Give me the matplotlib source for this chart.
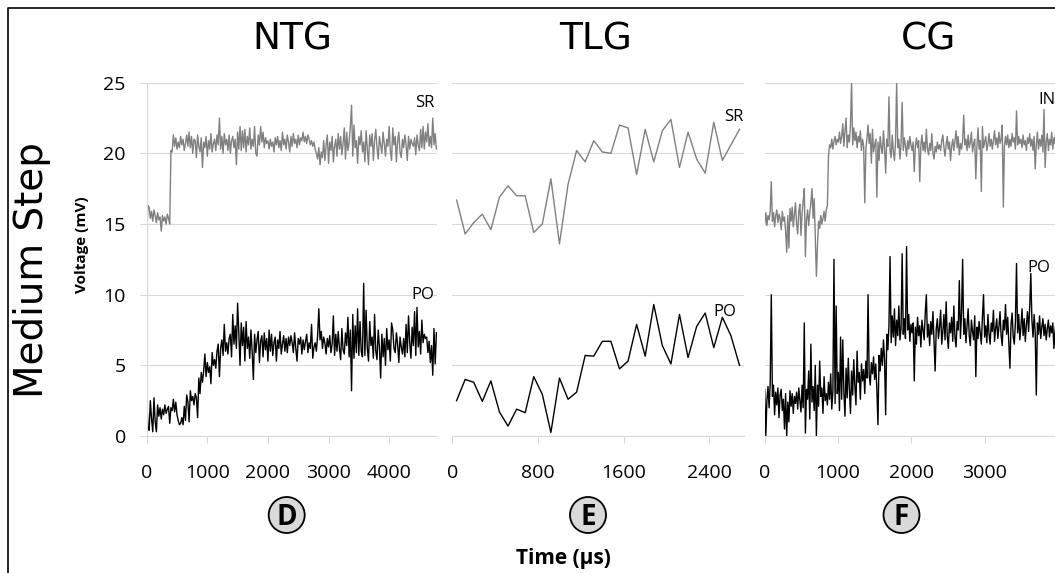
import numpy as np
import matplotlib
matplotlib.use("Agg")
import matplotlib.pyplot as plt
from matplotlib.patches import Ellipse
from matplotlib.lines import Line2D

plt.rcParams['font.family'] = ['Open Sans', 'DejaVu Sans']

# ---- data (mV) ----
# NTG, sampled every 20 us
ntg_step = 20
ntg_sr = [14.2, 16.3, 16.2, 15.4, 15.9, 15.2, 16.0, 15.6, 15.1, 15.8, 15.3, 15.5, 14.5, 15.6, 15.2, 15.5, 15.0, 15.7, 15.4, 15.0,
          20.2, 20.1, 21.3, 20.5, 21.1, 20.3, 20.8, 20.4, 21.2, 20.6, 21.0, 20.2, 20.7, 21.3, 20.5, 21.5, 20.4, 21.2, 20.0, 21.0,
          20.9, 19.7, 21.3, 20.5, 20.1, 21.1, 19.0, 20.8, 20.4, 21.2, 19.8, 20.9, 20.3, 21.4, 20.1, 20.7, 21.0, 20.2, 21.3, 20.6,
          22.5, 20.3, 21.2, 20.0, 21.4, 20.6, 21.0, 20.2, 21.3, 20.0, 20.9, 21.2, 20.4, 21.0, 19.2, 21.5, 20.3, 21.9, 20.2, 21.6,
          20.4, 21.7, 20.1, 21.2, 20.6, 21.8, 20.3, 21.0, 20.5, 21.9, 20.0, 19.8, 21.3, 20.6, 21.9, 20.8, 21.5, 20.4, 21.1, 20.7,
          20.9, 20.3, 21.0, 20.5, 20.8, 20.1, 21.1, 20.6, 21.2, 20.4, 20.9, 20.2, 21.5, 20.6, 21.0, 20.3, 21.3, 20.8, 20.1, 21.2,
          20.5, 21.4, 20.7, 21.0, 20.4, 21.3, 20.6, 21.1, 20.9, 21.5, 20.8, 21.2, 20.7, 21.3, 21.0, 20.6, 20.9, 20.5, 20.8, 20.3,
          20.0, 19.6, 20.4, 19.2, 20.1, 19.7, 20.9, 19.5, 20.6, 21.3, 19.3, 20.8, 20.2, 21.2, 19.4, 20.5, 21.0, 19.8, 21.4, 20.3,
          21.2, 19.9, 20.7, 21.8, 19.6, 21.5, 20.2, 20.8, 21.9, 23.4, 19.8, 22.0, 20.4, 20.9, 19.3, 21.2, 20.6, 21.6, 20.1, 20.8,
          19.4, 21.6, 20.3, 19.2, 21.3, 20.5, 21.4, 19.5, 20.9, 21.7, 20.4, 19.6, 21.2, 20.6, 20.0, 21.5, 20.7, 19.8, 21.0, 20.5,
          21.9, 20.2, 19.5, 21.8, 20.6, 21.2, 19.4, 20.9, 21.5, 20.1, 19.7, 21.0, 20.4, 21.3, 20.6, 19.5, 21.2, 20.3, 21.0, 20.7,
          20.5, 21.1, 19.9, 21.3, 20.6, 20.2, 21.7, 20.4, 21.9, 20.3, 21.5, 20.8, 22.1, 20.5, 21.2, 20.4, 22.5, 20.6, 21.4, 20.3]
ntg_po = [2.9, 0.6, 0.4, 2.5, 1.2, 0.3, 2.7, 1.0, 0.3, 2.2, 1.4, 2.0, 1.2, 1.9, 1.5, 2.2, 1.6, 1.9, 2.1, 0.9,
          2.0, 1.8, 2.6, 1.7, 2.4, 1.5, 1.1, 0.8, 0.9, 1.3, 0.8, 2.1, 1.1, 2.9, 2.4, 1.0, 3.2, 2.5, 2.8, 2.2,
          3.0, 2.7, 1.3, 4.1, 3.0, 4.5, 3.8, 4.6, 5.8, 4.2, 5.2, 4.5, 4.9, 3.7, 5.9, 5.0, 5.4, 4.8, 6.0, 6.5,
          4.2, 6.2, 6.8, 5.7, 7.9, 6.0, 6.6, 5.8, 6.9, 7.2, 5.6, 8.6, 6.5, 7.8, 6.2, 9.4, 7.3, 5.0, 8.0, 6.4,
          7.7, 5.3, 8.1, 6.2, 7.0, 5.5, 7.5, 6.0, 4.0, 7.2, 5.9, 6.8, 7.4, 5.2, 6.7, 7.1, 5.6, 7.3, 6.1, 6.9,
          5.3, 7.5, 6.0, 7.2, 5.7, 6.6, 7.0, 5.3, 6.8, 6.2, 7.4, 5.8, 6.5, 7.1, 6.0, 6.9, 5.9, 7.0, 6.4, 7.1,
          6.6, 5.9, 7.3, 6.2, 5.3, 6.9, 6.5, 7.0, 5.8, 6.8, 6.1, 6.7, 7.2, 5.9, 6.6, 6.2, 7.9, 5.5, 6.3, 6.6,
          6.0, 7.1, 9.0, 6.8, 7.4, 6.2, 7.0, 6.6, 5.8, 6.9, 6.3, 7.1, 5.9, 6.5, 8.5, 5.7, 7.2, 6.0, 7.4, 6.2,
          5.4, 7.6, 6.1, 5.8, 7.3, 6.4, 8.4, 5.6, 7.5, 3.2, 8.6, 5.5, 7.8, 5.9, 9.0, 5.7, 8.1, 6.0, 5.6, 10.8,
          5.7, 8.9, 6.2, 5.3, 8.1, 6.4, 7.0, 5.5, 8.6, 6.0, 5.4, 7.5, 6.3, 4.1, 7.2, 5.6, 6.9, 5.0, 7.6, 6.1,
          6.8, 5.3, 8.0, 7.5, 6.2, 5.9, 7.3, 6.5, 5.2, 7.0, 6.3, 5.8, 6.9, 5.6, 7.9, 5.9, 8.5, 6.6, 5.5, 7.7,
          6.4, 8.8, 5.7, 9.1, 6.3, 7.4, 5.8, 8.2, 6.6, 7.2, 6.9, 7.0, 5.9, 6.7, 5.2, 6.4, 4.3, 7.6, 5.1, 7.3]

# TLG, sampled every 80 us starting at 40 us
tlg_start = 40
tlg_step = 80
tlg_sr = [16.7, 14.3, 15.1, 15.7, 14.6, 16.9, 17.7, 17.0, 17.0, 14.4, 15.0, 18.2, 13.6, 17.8, 20.2, 19.4, 20.9,
          20.1, 20.0, 22.0, 21.8, 18.5, 21.7, 19.4, 21.6, 22.4, 19.0, 21.5, 19.6, 18.6, 22.2, 19.5, 20.6, 21.7]
tlg_po = [2.5, 4.0, 3.8, 2.45, 3.9, 1.7, 0.7, 1.9, 1.65, 4.2, 2.95, 0.25, 4.1, 2.6, 3.1, 5.7, 5.65,
          6.7, 6.7, 4.75, 5.3, 7.9, 5.65, 9.3, 6.4, 5.1, 8.6, 5.55, 7.75, 8.7, 6.25, 8.4, 7.1, 5.0]

# CG, sampled every 15 us
cg_step = 15
cg_in = [15.0, 15.8, 14.9, 15.6, 15.3, 15.9, 18.0, 15.2, 15.8, 14.8, 15.6, 16.0, 15.1, 15.7, 15.4, 14.6, 15.9, 15.2, 15.5, 14.5,
         13.0, 15.6, 13.3, 16.1, 15.2, 16.2, 14.8, 15.7, 16.5, 15.0, 14.3, 15.9, 16.4, 14.2, 15.8, 16.6, 17.5, 12.7, 15.3, 16.0,
         14.9, 15.8, 16.5, 17.5, 15.4, 16.8, 14.0, 11.3, 13.5, 15.2, 14.7, 15.6, 15.0, 15.4, 15.9, 15.2, 16.0, 16.3, 19.8, 20.6,
         20.4, 21.0, 20.3, 20.9, 21.2, 20.6, 21.0, 20.8, 21.5, 20.7, 21.2, 22.1, 20.5, 21.6, 22.5, 20.4, 21.3, 20.8, 22.0, 25.0,
         20.6, 21.8, 20.9, 21.5, 20.4, 21.2, 20.8, 21.6, 20.2, 21.0, 20.5, 16.5, 20.3, 21.1, 22.0, 20.7, 21.4, 19.3, 21.7, 20.1,
         20.6, 21.0, 16.9, 20.8, 19.5, 21.2, 20.4, 20.0, 21.6, 20.3, 18.6, 21.0, 20.5, 24.0, 20.2, 19.7, 21.3, 20.1, 19.5, 20.8,
         25.0, 20.4, 21.0, 19.6, 20.7, 23.6, 20.2, 21.1, 20.5, 19.8, 20.9, 20.3, 21.2, 20.6, 20.2, 20.8, 18.7, 20.5, 21.1, 20.4,
         20.9, 18.0, 20.6, 21.3, 20.2, 20.8, 20.1, 21.7, 20.3, 19.9, 20.7, 20.2, 21.4, 20.0, 19.6, 20.5, 20.1, 20.8, 20.3, 20.6,
         20.2, 20.9, 21.3, 20.4, 19.8, 20.6, 21.2, 20.3, 20.8, 19.5, 20.5, 21.0, 20.2, 20.9, 21.6, 20.4, 21.2, 19.9, 20.7, 20.3,
         20.9, 22.7, 20.6, 21.0, 20.2, 21.3, 20.4, 20.8, 21.5, 20.1, 20.7, 21.0, 18.2, 20.5, 21.8, 20.3, 20.9, 17.3, 21.9, 20.4,
         20.8, 21.2, 20.2, 20.7, 21.4, 20.5, 21.0, 20.3, 20.9, 21.6, 20.6, 21.1, 20.4, 21.5, 20.7, 21.0, 22.0, 16.2, 20.5, 21.2,
         20.6, 21.3, 20.4, 21.0, 20.5, 21.4, 20.8, 21.1, 20.3, 23.0, 20.6, 21.2, 20.7, 21.0, 20.4, 21.3, 20.6, 20.9, 20.2, 21.1,
         20.7, 21.4, 20.5, 21.0, 20.2, 21.2, 18.9, 20.6, 21.5, 20.3, 21.0, 20.5, 21.3, 20.1, 23.1, 19.0, 20.8, 21.4, 20.2, 21.0,
         20.6, 21.5, 20.3, 21.1, 20.7, 22.2, 20.4]
cg_po = [3.3, 0.0, 2.5, 3.5, 2.0, 3.7, 10.0, 2.8, 3.6, 1.5, 3.1, 2.2, 3.4, 1.3, 2.9, 3.3, 1.8, 2.6, 0.5, 3.0,
         0.0, 2.4, 1.0, 3.2, 2.1, 3.0, 1.6, 2.8, 2.3, 3.1, 1.9, 3.4, 2.5, 1.7, 3.6, 2.0, 8.0, 0.2, 3.3, 2.6,
         4.6, 1.2, 6.5, 2.4, 3.5, 1.8, 5.0, 0.0, 3.6, 2.1, 5.3, 2.8, 3.4, 1.6, 4.2, 2.5, 3.0, 2.2, 3.8, 2.6,
         4.4, 1.9, 3.2, 12.5, 2.3, 9.2, 3.0, 4.5, 1.8, 7.0, 2.6, 6.8, 3.1, 1.4, 4.8, 2.7, 5.5, 3.3, 1.6, 4.6,
         2.9, 5.4, 3.5, 2.2, 6.0, 3.8, 4.5, 2.6, 5.1, 3.9, 4.7, 3.0, 5.3, 4.1, 10.0, 4.3, 3.6, 5.2, 4.4, 5.6,
         4.0, 5.1, 3.3, 0.8, 5.7, 4.6, 6.2, 5.0, 6.8, 5.4, 1.5, 7.2, 6.1, 7.8, 12.7, 6.6, 8.5, 7.0, 9.0, 6.4,
         8.2, 7.1, 9.2, 6.8, 7.6, 12.9, 7.2, 8.3, 6.9, 13.4, 7.5, 8.6, 6.7, 7.9, 7.3, 8.0, 3.9, 7.7, 6.5, 8.4,
         7.1, 7.8, 6.3, 8.2, 7.5, 6.8, 8.7, 10.0, 7.0, 7.9, 6.4, 8.1, 7.2, 8.8, 6.6, 4.6, 7.6, 8.3, 6.9, 7.7,
         8.9, 6.5, 7.4, 8.6, 6.8, 9.5, 7.1, 6.2, 8.0, 7.3, 8.4, 6.7, 9.2, 7.0, 6.3, 8.1, 7.5, 11.0, 6.9, 8.7,
         12.5, 7.2, 8.3, 6.6, 7.8, 9.0, 7.1, 6.4, 8.2, 7.4, 6.8, 8.5, 4.2, 7.7, 6.9, 8.1, 7.3, 6.5, 8.4, 10.0,
         7.0, 7.8, 6.6, 8.6, 7.2, 6.5, 8.0, 7.4, 8.9, 6.7, 7.6, 8.3, 6.9, 7.7, 8.8, 7.1, 6.4, 8.2, 7.5, 9.3,
         7.2, 8.4, 6.6, 4.8, 7.9, 8.7, 7.0, 6.5, 8.1, 12.2, 7.3, 8.6, 6.8, 7.7, 9.0, 7.1, 8.3, 6.7, 7.9, 8.8,
         7.4, 9.1, 11.5, 8.2, 7.0, 8.6, 7.3, 2.9, 8.0, 7.2, 8.5, 6.9, 7.7, 8.3, 7.1, 7.9, 6.8, 7.6, 8.2, 7.0,
         7.8, 7.3, 8.0, 6.2, 7.4, 8.1, 7.2]

y_ticks = [0, 5, 10, 15, 20, 25]
ntg_xticks = [0, 1000, 2000, 3000, 4000]
tlg_xticks = [0, 800, 1600, 2400]
cg_xticks = [0, 1000, 2000, 3000]

W, H = 1055, 573
GRID = '#d9d9d9'
GRAY = '#808080'


def fx(px):
    return px / W


def fy(py):
    return 1 - py / H


fig = plt.figure(figsize=(W / 100, H / 100), dpi=100)

bottom = fy(436)
height = (436 - 82.7) / H
ax1 = fig.add_axes([fx(146.7), bottom, 290 / W, height])
ax2 = fig.add_axes([fx(452.3), bottom, 291.7 / W, height])
ax3 = fig.add_axes([fx(764.7), bottom, 292.5 / W, height])

t_ntg = np.arange(len(ntg_sr)) * ntg_step
t_tlg = tlg_start + np.arange(len(tlg_sr)) * tlg_step
t_cg = np.arange(len(cg_in)) * cg_step

ax1.plot(t_ntg, ntg_sr, color=GRAY, lw=1.0)
ax1.plot(t_ntg, ntg_po, color='black', lw=1.0)
ax2.plot(t_tlg, tlg_sr, color=GRAY, lw=1.0)
ax2.plot(t_tlg, tlg_po, color='black', lw=1.0)
ax3.plot(t_cg, cg_in, color=GRAY, lw=1.0)
ax3.plot(t_cg, cg_po, color='black', lw=1.0)

for ax, xt, xmax in [(ax1, ntg_xticks, 4785), (ax2, tlg_xticks, 2722), (ax3, cg_xticks, 3990)]:
    ax.set_xlim(0, xmax)
    ax.set_ylim(0, 25)
    ax.set_xticks(xt)
    ax.set_yticks(y_ticks)
    ax.grid(axis='y', color=GRID, lw=0.8)
    ax.set_axisbelow(True)
    for s in ['top', 'right', 'left']:
        ax.spines[s].set_visible(False)
    ax.spines['bottom'].set_color(GRID)
    ax.spines['bottom'].set_linewidth(0.8)
    ax.tick_params(axis='x', direction='out', length=5, width=0.8, color=GRID,
                   labelsize=14, pad=15, labelcolor='black')
    ax.tick_params(axis='y', length=0, labelleft=False)

ax1.spines['left'].set_visible(True)
ax1.spines['left'].set_color(GRID)
ax1.spines['left'].set_linewidth(0.8)
ax1.tick_params(axis='y', direction='out', length=5, width=0.8, color=GRID,
                labelleft=True, labelsize=14, pad=10)

# trace labels
fig.text(fx(434), fy(106.7), 'SR', ha='right', va='baseline', fontsize=12)
fig.text(fx(434), fy(299.3), 'PO', ha='right', va='baseline', fontsize=12)
fig.text(fx(743.7), fy(121.3), 'SR', ha='right', va='baseline', fontsize=12)
fig.text(fx(736), fy(316), 'PO', ha='right', va='baseline', fontsize=12)
fig.text(fx(1038.3), fy(104), 'IN', ha='left', va='baseline', fontsize=12)
fig.text(fx(1050), fy(272), 'PO', ha='right', va='baseline', fontsize=12)

# column titles
for xc, name in [(292.5, 'NTG'), (595.5, 'TLG'), (929, 'CG')]:
    fig.text(fx(xc), fy(49), name, ha='center', va='baseline', fontsize=27,
             family='DejaVu Sans')

fig.text(fx(43), fy(270), 'Medium Step', rotation=90, rotation_mode='anchor',
         ha='center', va='baseline', fontsize=28, family='DejaVu Sans')
fig.text(fx(86), fy(245), 'Voltage (mV)', rotation=90, rotation_mode='anchor',
         ha='center', va='baseline', fontsize=11, fontweight='bold')
fig.text(fx(563), fy(564), 'Time (\u03bcs)', ha='center', va='baseline',
         fontsize=15, fontweight='bold')

# circled panel letters
for xc, letter in [(286.7, 'D'), (588, 'E'), (901.5, 'F')]:
    fig.add_artist(Ellipse((fx(xc), fy(515)), 36 / W, 36 / H, transform=fig.transFigure,
                           facecolor='#d9d9d9', edgecolor='black', lw=1.3))
    fig.text(fx(xc), fy(525), letter, ha='center', va='baseline', fontsize=20,
             fontweight='bold')

# frame of the figure panel (left and top edges)
fig.add_artist(Line2D([fx(8), fx(8), 1.0], [0.0, fy(7.5), fy(7.5)],
                      transform=fig.transFigure, color='black', lw=1.2))

fig.savefig('out.png', dpi=100)
